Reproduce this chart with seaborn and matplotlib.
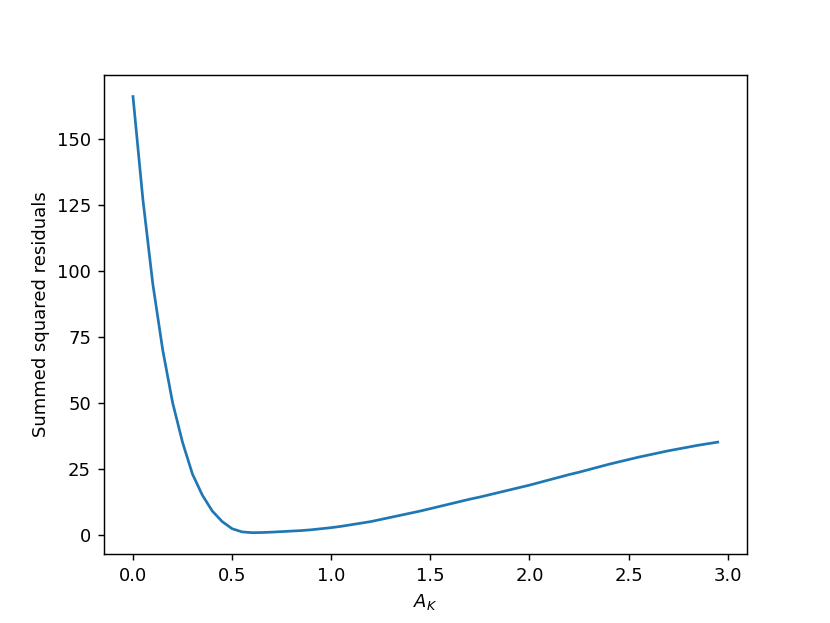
import matplotlib
matplotlib.use("Agg")
import matplotlib.pyplot as plt
import seaborn as sns
import pandas as pd

a_k = [0.00, 0.05, 0.10, 0.15, 0.20, 0.25, 0.30, 0.35, 0.40, 0.45,
       0.50, 0.55, 0.60, 0.65, 0.70, 0.75, 0.80, 0.85, 0.90, 0.95,
       1.00, 1.05, 1.10, 1.15, 1.20, 1.25, 1.30, 1.35, 1.40, 1.45,
       1.50, 1.55, 1.60, 1.65, 1.70, 1.75, 1.80, 1.85, 1.90, 1.95,
       2.00, 2.05, 2.10, 2.15, 2.20, 2.25, 2.30, 2.35, 2.40, 2.45,
       2.50, 2.55, 2.60, 2.65, 2.70, 2.75, 2.80, 2.85, 2.90, 2.95]
residuals = [166, 127, 95, 70, 50, 35, 23, 15, 9, 5,
             2.3, 1.1, 0.8, 0.85, 1.0, 1.2, 1.4, 1.6, 1.9, 2.3,
             2.7, 3.2, 3.8, 4.4, 5.0, 5.8, 6.6, 7.4, 8.2, 9.0,
             9.9, 10.8, 11.7, 12.6, 13.5, 14.3, 15.2, 16.1, 17.0, 17.9,
             18.8, 19.8, 20.8, 21.8, 22.8, 23.7, 24.7, 25.7, 26.7, 27.6,
             28.5, 29.4, 30.2, 31.0, 31.8, 32.5, 33.2, 33.9, 34.5, 35.1]

df = pd.DataFrame({"A_K": a_k, "ssr": residuals})

fig, ax = plt.subplots(figsize=(830 / 130, 623 / 130), dpi=130)
sns.lineplot(data=df, x="A_K", y="ssr", ax=ax, color="#1f77b4", linewidth=1.5)
ax.set_xlabel("$A_K$")
ax.set_ylabel("Summed squared residuals")
fig.savefig("out.png", dpi=130)
